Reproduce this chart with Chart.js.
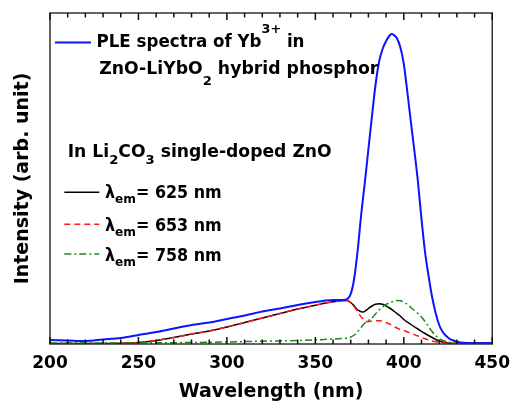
<!DOCTYPE html>
<html>
<head>
<meta charset="utf-8">
<script src="https://cdn.jsdelivr.net/npm/chart.js@4/dist/chart.umd.min.js"></script>
<style>
  html, body { margin: 0; padding: 0; background: #fff; }
</style>
</head>
<body>
<canvas id="myChart" width="519" height="406"></canvas>
<script>
'use strict';
// PLE spectra of Yb3+ in ZnO-LiYbO2 hybrid phosphor
const bluePleNm = [200, 210, 220, 230, 240, 250, 260, 270, 280, 290, 300, 310, 320, 330, 340, 350,
  355, 360, 366, 368, 370,
  372, 374, 376, 378, 380, 382, 384, 386, 388, 390,
  392, 393, 394, 396, 398, 400, 402, 404, 406, 408,
  410, 412, 414, 416, 418, 420,
  422, 424, 426, 428, 432, 436, 440, 450];
const bluePleInt = [4, 3.5, 3, 4.5, 6, 9, 12, 15.5, 19, 21.5, 25, 28.5, 32.5, 35.5, 39, 42,
  43.3, 44, 44, 45, 50,
  66, 95, 131, 162, 195, 228, 259, 282, 295, 303,
  308.5, 310, 309.5, 306, 297, 280, 252, 222, 193, 162,
  125, 92, 68, 47, 31, 19,
  12, 8, 5, 3.5, 1.5, 1, 1, 1];

// In Li2CO3 single-doped ZnO, lambda_em = 625 nm
const em625Nm = [200, 210, 220, 230, 240, 250, 260, 270, 280, 290, 300, 310, 320, 330, 340, 350,
  355, 360, 365, 368, 370, 372, 374, 376, 377, 378, 380, 382, 384, 386, 388, 390, 392, 395, 398,
  400, 404, 408, 412, 416, 420, 424, 428, 435, 450];
const em625Int = [0.5, 0.5, 0.5, 0.5, 0.7, 1.5, 3.5, 6.5, 10, 13, 17, 21.5, 26, 30.5, 35, 38.7,
  40.8, 42.3, 43.3, 43.5, 41.5, 38, 34, 32.3, 32, 32.8, 35.5, 38, 39.8, 40.3, 39.8, 38, 36, 32, 28,
  24.5, 19.5, 15, 10.5, 6.5, 3, 1.2, 0.5, 0.3, 0.3];

// lambda_em = 653 nm
const em653Nm = [200, 210, 220, 230, 240, 250, 260, 270, 280, 290, 300, 310, 320, 330, 340, 350,
  355, 360, 365, 368, 370, 372, 374, 376, 378, 380, 382, 384, 386, 388, 390, 392, 395, 398,
  400, 404, 408, 412, 416, 420, 425, 430, 440, 450];
const em653Int = [0.5, 0.5, 0.5, 0.5, 0.7, 1.5, 3.5, 6.5, 10, 13, 17, 21.5, 26, 30.5, 35, 38.7,
  40.8, 42.3, 43.3, 43.5, 41, 37, 32, 27, 23.5, 22.3, 23, 23.3, 23.2, 22.8, 21.5, 19.8, 17, 14.5,
  13.5, 10.7, 8, 5.2, 3, 1.5, 0.8, 0.7, 0.8, 1];

// lambda_em = 758 nm
const em758Nm = [200, 220, 240, 260, 280, 300, 320, 340,
  355, 365, 368, 370, 372, 374, 376, 378, 380, 382, 384, 386, 388, 390, 393, 396, 398,
  400, 402, 405, 408, 410, 412, 414, 416, 418, 420, 422, 425, 428, 435, 450];
const em758Int = [1, 1, 1, 1.2, 1.5, 2, 2.8, 3.5,
  4.5, 5.5, 6, 7, 9, 12.5, 17, 21, 23.5, 26, 30, 34, 37, 39.5, 42, 43.5, 43.3,
  42, 39.5, 35, 30.5, 27, 22.5, 17.5, 12.5, 8.5, 5.5, 3.5, 2, 1, 0.5, 0.5];

const FONT = '"DejaVu Sans", sans-serif';
Chart.defaults.font.family = FONT;
Chart.defaults.color = '#000';

function pts(xs, ys) {
  return xs.map((x, i) => ({ x: x, y: ys[i] }));
}

const styles = {
  blue: { color: '#0a14ff', width: 2, dash: [] },
  black: { color: '#000000', width: 1.5, dash: [] },
  red: { color: '#ff1a1a', width: 1.5, dash: [6, 4] },
  green: { color: '#1a8a1a', width: 1.5, dash: [7, 3, 2, 3] }
};

function ds(label, data, st) {
  return {
    label: label,
    data: data,
    borderColor: st.color,
    borderWidth: st.width,
    borderDash: st.dash,
    pointRadius: 0,
    fill: false,
    tension: 0.4,
    cubicInterpolationMode: 'monotone'
  };
}

// text lines with sub/superscripts, stretched to the width seen in the figure
function drawRuns(ctx, x, y, width, runs) {
  const big = 'bold 17px ' + FONT;
  const small = 'bold 13px ' + FONT;
  let total = 0;
  runs.forEach(r => {
    ctx.font = r.s ? small : big;
    r.w = ctx.measureText(r.t).width;
    total += r.w;
  });
  ctx.save();
  ctx.translate(x, y);
  ctx.scale(width / total, 1);
  ctx.fillStyle = '#000';
  ctx.textAlign = 'left';
  ctx.textBaseline = 'alphabetic';
  let cx = 0;
  runs.forEach(r => {
    ctx.font = r.s ? small : big;
    ctx.fillText(r.t, cx, r.dy || 0);
    cx += r.w;
  });
  ctx.restore();
}

function sampleLine(ctx, x0, x1, y, st) {
  ctx.save();
  ctx.strokeStyle = st.color;
  ctx.lineWidth = st.width;
  ctx.setLineDash(st.dash);
  ctx.beginPath();
  ctx.moveTo(x0, y);
  ctx.lineTo(x1, y);
  ctx.stroke();
  ctx.restore();
}

const framePlugin = {
  id: 'frame',
  afterDraw(chart) {
    const ctx = chart.ctx;
    const a = chart.chartArea;
    const xs = chart.scales.x;
    ctx.save();
    ctx.setLineDash([]);
    ctx.strokeStyle = '#333';
    ctx.lineWidth = 1.5;
    ctx.strokeRect(a.left, a.top, a.right - a.left, a.bottom - a.top);
    // inward tick marks, every 10 nm, longer at the labelled ones
    ctx.strokeStyle = '#111';
    ctx.lineWidth = 1.5;
    ctx.beginPath();
    for (let v = xs.min; v <= xs.max; v += 10) {
      const px = xs.getPixelForValue(v);
      const len = v % 50 === 0 ? 7 : 4.5;
      ctx.moveTo(px, a.bottom);
      ctx.lineTo(px, a.bottom - len);
      ctx.moveTo(px, a.top);
      ctx.lineTo(px, a.top + len);
    }
    ctx.stroke();
    ctx.restore();

    // legend
    const L = a.left;
    const T = a.top;
    sampleLine(ctx, L + 5, L + 41, T + 29.5, styles.blue);
    drawRuns(ctx, L + 46.5, T + 34.3, 208, [
      { t: 'PLE spectra of Yb' }, { t: '3+', s: 1, dy: -14 }, { t: ' in' }]);
    drawRuns(ctx, L + 49.3, T + 61, 279, [
      { t: 'ZnO-LiYbO' }, { t: '2', s: 1, dy: 11 }, { t: ' hybrid phosphor' }]);
    drawRuns(ctx, L + 17.7, T + 143.7, 264, [
      { t: 'In Li' }, { t: '2', s: 1, dy: 7 }, { t: 'CO' }, { t: '3', s: 1, dy: 7 },
      { t: ' single-doped ZnO' }]);
    const rows = [
      { st: styles.black, ly: 179.3, by: 185.3, txt: '= 625 nm' },
      { st: styles.red, ly: 211.3, by: 217.7, txt: '= 653 nm' },
      { st: styles.green, ly: 241, by: 248, txt: '= 758 nm' }
    ];
    rows.forEach(r => {
      sampleLine(ctx, L + 14.3, L + 49.3, T + r.ly, r.st);
      drawRuns(ctx, L + 55, T + r.by, 116.7, [
        { t: '\u03bb' }, { t: 'em', s: 1, dy: 5 }, { t: r.txt }]);
    });
  }
};

const ctx = document.getElementById('myChart').getContext('2d');
const myChart = new Chart(ctx, {
  type: 'line',
  data: {
    datasets: [
      ds('PLE spectra of Yb3+ in ZnO-LiYbO2 hybrid phosphor', pts(bluePleNm, bluePleInt), styles.blue),
      ds('\u03bbem = 758 nm', pts(em758Nm, em758Int), styles.green),
      ds('\u03bbem = 653 nm', pts(em653Nm, em653Int), styles.red),
      ds('\u03bbem = 625 nm', pts(em625Nm, em625Int), styles.black)
    ]
  },
  options: {
    responsive: false,
    animation: false,
    layout: { padding: { top: 13, right: 20, left: 0, bottom: 0 } },
    plugins: {
      legend: { display: false },
      tooltip: { enabled: false }
    },
    scales: {
      x: {
        type: 'linear',
        position: 'bottom',
        min: 200,
        max: 450,
        grid: { display: false, drawTicks: false },
        border: { display: false },
        ticks: {
          stepSize: 50,
          maxRotation: 0,
          padding: 9,
          color: '#000',
          font: { size: 17, weight: 'bold' }
        },
        title: {
          display: true,
          text: 'Wavelength (nm)',
          color: '#000',
          font: { size: 19, weight: 'bold' },
          padding: { top: 0, bottom: 3 }
        },
        afterFit: s => { s.height = 62; }
      },
      y: {
        min: 0,
        max: 331,
        grid: { display: false, drawTicks: false },
        border: { display: false },
        ticks: { display: false },
        title: {
          display: true,
          text: 'Intensity (arb. unit)',
          color: '#000',
          font: { size: 19, weight: 'bold' },
          padding: { top: 12, bottom: 0 }
        },
        afterFit: s => { s.width = 50; }
      }
    }
  },
  plugins: [framePlugin]
});
</script>
</body>
</html>
